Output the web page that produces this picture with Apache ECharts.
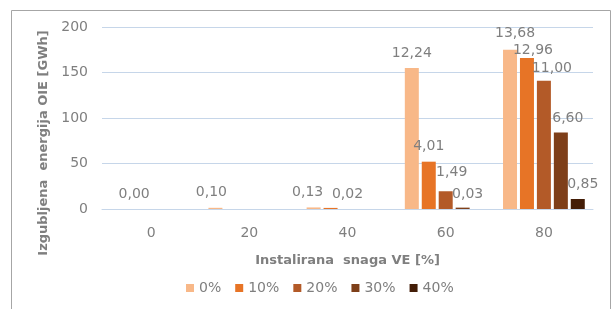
<!DOCTYPE html>
<html>
<head>
<meta charset="utf-8">
<script src="https://cdn.jsdelivr.net/npm/echarts@6/dist/echarts.min.js"></script>
<style>
  html, body { margin: 0; padding: 0; background: #fff; }
  #chart { width: 613px; height: 309px; }
</style>
</head>
<body>
<div id="chart"></div>
<script>
// installed wind power share on the x axis
const categories = ['0', '20', '40', '60', '80'];
const seriesNames = ['0%', '10%', '20%', '30%', '40%'];

// lost RES energy [GWh]
const lost0 = [0, 1.3, 1.7, 155, 175];
const lost10 = [0, 0, 1.2, 52, 166];
const lost20 = [0, 0, 0, 19.5, 141];
const lost30 = [0, 0, 0, 1.5, 84];
const lost40 = [0, 0, 0, 0, 11];

// data labels shown above the bars (null = no label)
const label0 = [null, '0,10', '0,13', '12,24', '13,68'];
const label10 = ['0,00', null, null, '4,01', '12,96'];
const label20 = [null, null, '0,02', '1,49', '11,00'];
const label30 = [null, null, null, '0,03', '6,60'];
const label40 = [null, null, null, null, '0,85'];

const colors = ['#f8b888', '#e77426', '#b35a28', '#7e3f19', '#431d07'];
const textGrey = '#7f7f7f';
const font = 'DejaVu Sans';

// small manual shifts like the hand-placed labels in the original
const nudge = {
  '0-1': [-4, 0], '0-2': [-6, 0], '0-4': [5, -1],
  '1-4': [6, 7], '2-3': [6, -4], '2-4': [8, 3],
  '3-3': [5, 2], '3-4': [7, 1], '4-4': [5, 0]
};

const values = [lost0, lost10, lost20, lost30, lost40];
const labels = [label0, label10, label20, label30, label40];

const series = seriesNames.map((name, s) => ({
  name: name,
  type: 'bar',
  barWidth: 14,
  barGap: '21%',
  itemStyle: { color: colors[s] },
  label: {
    show: true,
    position: 'top',
    distance: 8,
    color: textGrey,
    fontFamily: font,
    fontSize: 14
  },
  data: values[s].map((v, i) => ({
    value: v,
    label: labels[s][i] == null
      ? { show: false }
      : { show: true, formatter: labels[s][i], offset: nudge[s + '-' + i] || [0, 0] }
  }))
}));

const chart = echarts.init(document.getElementById('chart'));

chart.setOption({
  animation: false,
  color: colors,
  graphic: [{
    type: 'rect',
    shape: { x: 11.5, y: 10.5, width: 599, height: 310 },
    style: { fill: 'none', stroke: '#a6a6a6', lineWidth: 1 }
  }],
  grid: {
    left: 102,
    right: 20,
    top: 27,
    bottom: 100
  },
  legend: {
    left: 181,
    top: 276,
    icon: 'rect',
    itemWidth: 8,
    itemHeight: 8,
    itemGap: 14,
    textStyle: { color: textGrey, fontFamily: font, fontSize: 14 },
    data: seriesNames
  },
  xAxis: {
    type: 'category',
    data: categories,
    name: 'Instalirana  snaga VE [%]',
    nameLocation: 'middle',
    nameGap: 45,
    nameTextStyle: { color: textGrey, fontFamily: font, fontSize: 13, fontWeight: 'bold' },
    axisLine: { lineStyle: { color: '#c6d6e9' } },
    axisTick: { show: false },
    axisLabel: { color: textGrey, fontFamily: font, fontSize: 14, margin: 17 }
  },
  yAxis: {
    type: 'value',
    min: 0,
    max: 200,
    interval: 50,
    name: 'Izgubljena  energija OIE [GWh]',
    nameLocation: 'middle',
    nameGap: 50,
    nameTextStyle: {
      color: textGrey, fontFamily: font, fontSize: 13, fontWeight: 'bold',
      padding: [0, 50, 0, 0]
    },
    axisLine: { show: false },
    axisTick: { show: false },
    splitLine: { lineStyle: { color: '#c6d6e9' } },
    axisLabel: { color: textGrey, fontFamily: font, fontSize: 14, margin: 14 }
  },
  series: series
});
</script>
</body>
</html>
